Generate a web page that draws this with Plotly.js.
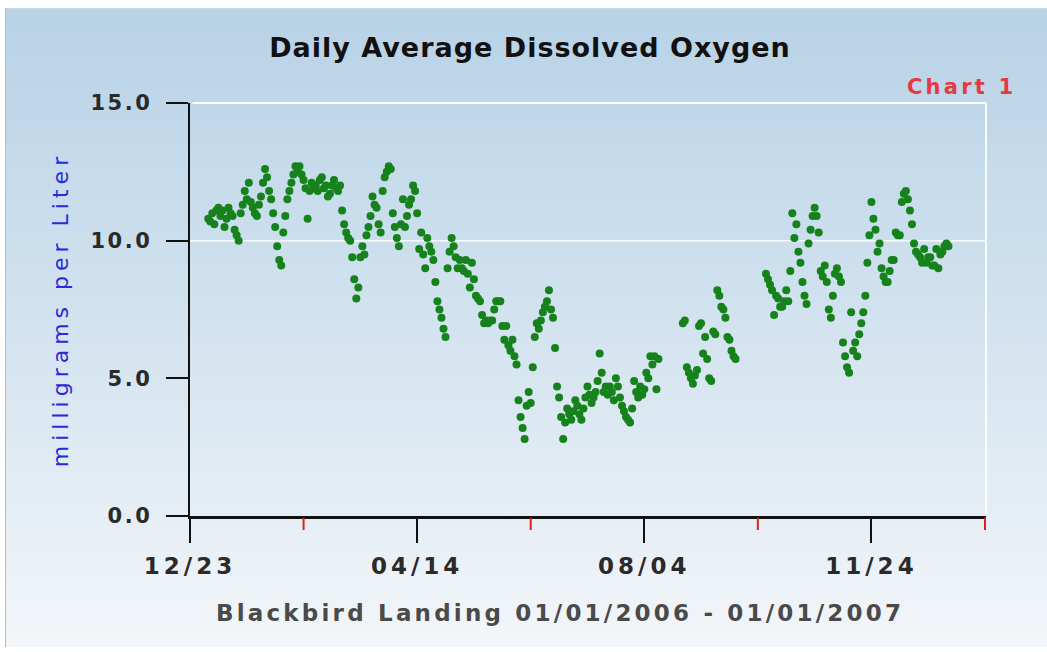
<!DOCTYPE html>
<html>
<head>
<meta charset="utf-8">
<script src="https://cdn.plot.ly/plotly-3.0.1.min.js"></script>
<style>
  html, body { margin: 0; padding: 0; background: #ffffff; }
  #bg {
    position: absolute; left: 5px; top: 8px; width: 1042px; height: 638px;
    background: linear-gradient(to bottom, #b8d2e6 0%, #d3e3ef 50%, #f3f6f9 100%);
    border-left: 1px solid #a8bccb; border-top: 1px solid #c9d8e3;
  }
  #chart { position: absolute; left: 0; top: 0; width: 1047px; height: 652px; }
  .xtick text { letter-spacing: 4px; }
  .ytick text { letter-spacing: 2.5px; }
  .ytitle { letter-spacing: 5px; }
  .gtitle { letter-spacing: 1px; }
  .annotation-text { letter-spacing: 3.2px; }
</style>
</head>
<body>
<div id="bg"></div>
<div id="chart"></div>
<script>
// ---- data (daily average dissolved oxygen, mg/L), one value per day from startDate ----
const startDate = '2006-01-01';
const doValues = [
  10.8, 10.7, 11.0, 10.6, 11.1, 11.2, 10.9, 11.1, 10.5, 10.8,
  11.2, 11.0, 10.9, 10.4, 10.2, 10.0, 11.0, 11.3, 11.8, 11.5,
  12.1, 11.4, 11.2, 11.0, 10.9, 11.3, 11.6, 12.1, 12.6, 12.3,
  11.8, 11.5, 11.0, 10.5, 9.8, 9.3, 9.1, 10.3, 10.9, 11.5,
  11.8, 12.1, 12.4, 12.7, 12.5, 12.7, 12.4, 12.2, 11.9, 10.8,
  11.8, 12.1, 11.9, 12.0, 11.8, 12.2, 12.3, 11.9, 12.0, 11.6,
  11.7, 12.0, 12.2, 11.9, 11.8, 12.0, 11.1, 10.6, 10.3, 10.1,
  10.0, 9.4, 8.6, 7.9, 8.3, 9.4, 9.8, 9.5, 10.2, 10.5,
  10.9, 11.6, 11.3, 11.2, 10.6, 10.3, 11.8, 12.3, 12.5, 12.7,
  12.6, 11.0, 10.5, 10.1, 9.8, 10.6, 11.5, 10.5, 10.9, 11.3,
  11.5, 12.0, 11.8, 11.0, 9.7, 10.3, 9.5, 9.0, 10.1, 9.8,
  9.6, 9.3, 8.5, 7.8, 7.5, 7.2, 6.8, 6.5, 9.0, 9.6,
  10.1, 9.8, 9.4, 9.0, 9.3, 9.0, 8.9, 9.3, 8.8, 8.3,
  9.2, 8.6, 8.0, 7.9, 7.8, 7.3, 7.0, 7.1, 7.0, 7.1,
  7.1, 7.5, 7.8, 7.8, 7.8, 6.9, 6.4, 6.9, 6.2, 6.0,
  6.4, 5.8, 5.5, 4.2, 3.6, 3.2, 2.8, 4.0, 4.5, 4.1,
  5.4, 6.5, 7.0, 6.8, 7.1, 7.4, 7.6, 7.8, 8.2, 7.5,
  7.2, 6.1, 4.7, 4.3, 3.6, 2.8, 3.4, 3.9, 3.7, 3.5,
  3.8, 4.2, 4.0, 3.7, 3.5, 3.9, 4.3, 4.7, 4.4, 4.1,
  4.3, 4.5, 4.9, 5.9, 5.2, 4.5, 4.7, 4.4, 4.7, 4.5,
  4.2, 5.0, 4.7, 4.3, 4.0, 3.8, 3.6, 3.5, 3.4, 3.9,
  4.9, 4.5, 4.3, 4.7, 4.4, 4.6, 5.2, 5.0, 5.8, 5.5,
  5.8, 4.6, 5.7, null, null, null, null, null, null, null,
  null, null, null, null, 7.0, 7.1, 5.4, 5.2, 5.0, 4.8,
  5.1, 5.3, 6.9, 7.0, 5.9, 6.5, 5.7, 5.0, 4.9, 6.7,
  6.6, 8.2, 8.0, 7.6, 7.5, 7.2, 6.5, 6.4, 6.0, 5.8,
  5.7, null, null, null, null, null, null, null, null, null,
  null, null, null, null, null, 8.8, 8.6, 8.4, 8.2, 7.3,
  8.0, 7.9, 7.6, 7.6, 7.8, 8.2, 7.8, 8.9, 11.0, 10.1,
  10.6, 9.6, 9.2, 8.5, 8.0, 7.7, 9.9, 10.4, 10.9, 11.2,
  10.9, 10.3, 8.9, 8.7, 9.1, 8.5, 7.5, 7.2, 8.0, 8.8,
  9.0, 8.7, 8.5, 6.3, 5.8, 5.4, 5.2, 7.4, 6.0, 6.3,
  5.8, 6.6, 7.0, 7.4, 8.0, 9.2, 10.2, 11.4, 10.8, 10.4,
  9.6, 9.9, 9.0, 8.7, 8.5, 8.5, 8.9, 9.3, 9.3, 10.3,
  10.2, 10.2, 11.4, 11.7, 11.8, 11.5, 11.1, 10.6, 9.9, 9.6,
  9.5, 9.4, 9.2, 9.7, 9.2, 9.4, 9.4, 9.1, 9.1, 9.7,
  9.0, 9.5, 9.6, 9.8, 9.9, 9.8
];
const majorTickDates = ['2005-12-23', '2006-04-14', '2006-08-04', '2006-11-24'];
const majorTickLabels = ['12/23', '04/14', '08/04', '11/24'];
const minorTickDates = ['2006-02-17', '2006-06-09', '2006-09-29', '2007-01-19'];
const yTickValues = [0, 5, 10, 15];
const yTickLabels = ['0.0', '5.0', '10.0', '15.0'];
const xRange = ['2005-12-23', '2007-01-19 12:00'];
const yRange = [0, 15];

// ---- build dates from start date ----
function addDays(iso, n) {
  const d = new Date(iso + 'T00:00:00Z');
  d.setUTCDate(d.getUTCDate() + n);
  return d.toISOString().slice(0, 10);
}
const doDates = doValues.map((v, i) => addDays(startDate, i));

const FONT = 'DejaVu Sans, Verdana, sans-serif';

const trace = {
  type: 'scatter',
  mode: 'markers',
  x: doDates,
  y: doValues,
  marker: { color: '#16821b', size: 8, line: { width: 0 } },
  hoverinfo: 'x+y',
  cliponaxis: true
};

// red intermediate ticks below the x axis (positioned by the x scale)
const redTickShapes = minorTickDates.map(d => ({
  type: 'line', xref: 'x', yref: 'paper',
  x0: d, x1: d, y0: -0.004, y1: -14 / 413,
  line: { color: '#e0201c', width: 2 }, layer: 'above'
}));

const layout = {
  width: 1047,
  height: 652,
  paper_bgcolor: 'rgba(0,0,0,0)',
  plot_bgcolor: 'rgba(0,0,0,0)',
  margin: { l: 190, r: 61, t: 103, b: 136, pad: 0 },
  showlegend: false,
  title: {
    text: 'Daily Average Dissolved Oxygen',
    font: { family: FONT, size: 27, weight: 'bold', color: '#111111' },
    x: 530 / 1047, xref: 'container', xanchor: 'center',
    y: 1 - 48 / 652, yref: 'container', yanchor: 'middle'
  },
  xaxis: {
    type: 'date',
    range: xRange,
    tickmode: 'array',
    tickvals: majorTickDates,
    ticktext: majorTickLabels,
    ticks: 'outside', ticklen: 24, tickwidth: 2, tickcolor: '#111111',
    ticklabelstandoff: 4,
    tickfont: { family: FONT, size: 23, weight: 'bold', color: '#2a2a2a' },
    showline: true, linecolor: '#111111', linewidth: 2.5,
    showgrid: false, zeroline: false, automargin: false
  },
  yaxis: {
    range: yRange,
    tickmode: 'array',
    tickvals: yTickValues,
    ticktext: yTickLabels,
    ticks: 'outside', ticklen: 22, tickwidth: 2, tickcolor: '#111111',
    ticklabelstandoff: 9,
    tickfont: { family: FONT, size: 21, weight: 'bold', color: '#2a2a2a' },
    showline: true, linecolor: '#111111', linewidth: 2.5,
    showgrid: false, zeroline: false, automargin: false,
    title: {
      text: 'milligrams per Liter',
      font: { family: FONT, size: 22, color: '#2a2ad8' },
      standoff: 16
    }
  },
  shapes: [
    { type: 'line', xref: 'paper', yref: 'y', x0: 0, x1: 1, y0: 10, y1: 10,
      line: { color: 'rgba(255,255,255,0.85)', width: 1.5 }, layer: 'below' },
    { type: 'line', xref: 'paper', yref: 'paper', x0: 0.003, x1: 1, y0: 1, y1: 1,
      line: { color: 'rgba(255,255,255,0.9)', width: 2 }, layer: 'below' },
    { type: 'line', xref: 'paper', yref: 'paper', x0: 1, x1: 1, y0: 0.005, y1: 1,
      line: { color: 'rgba(255,255,255,0.9)', width: 2 }, layer: 'below' }
  ].concat(redTickShapes),
  annotations: [
    { text: 'Chart 1', xref: 'paper', yref: 'paper',
      x: (1018 - 190) / 796, xanchor: 'right',
      y: (516 - 87) / 413, yanchor: 'middle',
      showarrow: false,
      font: { family: FONT, size: 21, weight: 'bold', color: '#e33b3f' } },
    { text: 'Blackbird Landing 01/01/2006 - 01/01/2007', xref: 'paper', yref: 'paper',
      x: (560 - 190) / 796, xanchor: 'center',
      y: (516 - 613) / 413, yanchor: 'middle',
      showarrow: false,
      font: { family: FONT, size: 23, weight: 'bold', color: '#4a4a4a' } }
  ]
};

Plotly.newPlot('chart', [trace], layout, { displayModeBar: false, staticPlot: true });
</script>
</body>
</html>
